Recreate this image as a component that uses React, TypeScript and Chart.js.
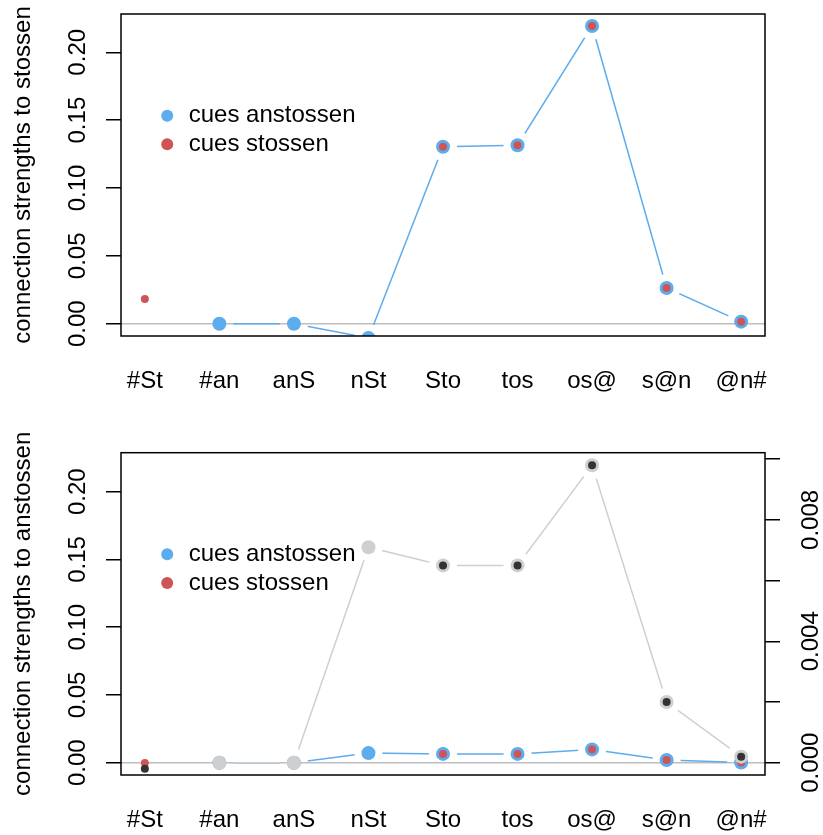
import React, { useEffect, useRef } from "react";
import { Chart, registerables } from "chart.js";

Chart.register(...registerables);

// ---------- data ----------
const CATEGORIES = ["#St", "#an", "anS", "nSt", "Sto", "tos", "os@", "s@n", "@n#"];

// top panel: connection strengths to "stossen"
const TOP_ANSTOSSEN_CUES = [null, 0, 0, -0.0105, 0.1304, 0.1315, 0.2194, 0.0263, 0.0015];
const TOP_STOSSEN_CUES = [0.0182, null, null, null, 0.1304, 0.1315, 0.2194, 0.0263, 0.0015];

// bottom panel: connection strengths to "anstossen"
const BOTTOM_ANSTOSSEN_CUES = [null, 0, 0, 0.0071, 0.0065, 0.0065, 0.0098, 0.002, 0.0002];
const BOTTOM_STOSSEN_CUES = [-0.0002, null, null, null, 0.0065, 0.0065, 0.0098, 0.002, 0.0002];

const LEFT_TICKS = [0, 0.05, 0.1, 0.15, 0.2];
const LEFT_TICK_LABELS = ["0.00", "0.05", "0.10", "0.15", "0.20"];
const RIGHT_TICKS = [0, 0.002, 0.004, 0.006, 0.008, 0.01];
const RIGHT_TICK_LABELS = ["0.000", "", "0.004", "", "0.008", ""];

const LEGEND_LABELS = ["cues anstossen", "cues stossen"];
const TOP_TITLE = "connection strengths to stossen";
const BOTTOM_TITLE = "connection strengths to anstossen";

// axis limits (as in the original plot)
const X_MIN = 0.68;
const X_MAX = 9.32;
const TOP_Y_MIN = -0.00906;
const TOP_Y_MAX = 0.2282;
const BOTTOM_Y_MIN = -0.00908;
const BOTTOM_Y_MAX = 0.2288;
const BOTTOM_Y1_MIN = -0.000405;
const BOTTOM_Y1_MAX = 0.010214;

// ---------- styles ----------
const FONT = "'Liberation Sans', Arial, Helvetica, sans-serif";
const BLUE = "#5CACEE";
const RED = "#CD5555";
const GREY = "#CFCFCF";
const DARK = "#333333";
const ZERO = "#BEBEBE";
const LW = 1.5;

Chart.defaults.font.family = FONT;
Chart.defaults.font.size = 24;
Chart.defaults.color = "#000";

const toXY = (arr: (number | null)[]) => arr.map((v, i) => ({ x: i + 1, y: v }));

// lines with gaps around points (R type = "b")
const gapPlugin = {
  id: "gapLines",
  beforeDatasetDraw(chart: any, args: any) {
    const ds: any = chart.data.datasets[args.index];
    if (!ds.gapRadius) return;
    const ctx = chart.ctx;
    ctx.save();
    ctx.beginPath();
    ctx.rect(0, 0, chart.width, chart.height);
    args.meta.data.forEach((pt: any) => {
      if (pt.skip || !isFinite(pt.x) || !isFinite(pt.y)) return;
      ctx.moveTo(pt.x + ds.gapRadius, pt.y);
      ctx.arc(pt.x, pt.y, ds.gapRadius, 0, Math.PI * 2);
    });
    ctx.clip("evenodd");
  },
  afterDatasetDraw(chart: any, args: any) {
    const ds: any = chart.data.datasets[args.index];
    if (!ds.gapRadius) return;
    chart.ctx.restore();
  },
};

const framePlugin = {
  id: "frame",
  beforeDatasetsDraw(chart: any) {
    const { ctx, chartArea } = chart;
    const y0 = chart.scales.y.getPixelForValue(0);
    ctx.save();
    ctx.strokeStyle = ZERO;
    ctx.lineWidth = LW;
    ctx.beginPath();
    ctx.moveTo(chartArea.left, y0);
    ctx.lineTo(chartArea.right, y0);
    ctx.stroke();
    ctx.restore();
  },
  afterDatasetsDraw(chart: any, _args: any, opts: any) {
    const { ctx, chartArea } = chart;
    ctx.save();
    // box
    ctx.strokeStyle = "#000";
    ctx.lineWidth = LW;
    ctx.strokeRect(chartArea.left, chartArea.top, chartArea.right - chartArea.left, chartArea.bottom - chartArea.top);
    // legend (placed in data coordinates)
    const xs = chart.scales.x;
    const ys = chart.scales.y;
    const lx = xs.getPixelForValue(opts.legendX);
    const ly = ys.getPixelForValue(opts.legendY);
    const colors = [BLUE, RED];
    ctx.font = `24px ${FONT}`;
    ctx.textBaseline = "middle";
    ctx.textAlign = "left";
    LEGEND_LABELS.forEach((label, i) => {
      const y = ly + i * 28.6;
      ctx.fillStyle = colors[i];
      ctx.beginPath();
      ctx.arc(lx, y, 6, 0, Math.PI * 2);
      ctx.fill();
      ctx.fillStyle = "#000";
      ctx.fillText(label, lx + 21.5, y);
    });
    ctx.restore();
  },
};

const gridOpts = {
  display: true,
  drawOnChartArea: false,
  drawTicks: true,
  tickLength: 15,
  tickWidth: LW,
  tickColor: "#000",
  lineWidth: LW,
  color: "#000",
};

const noPad = (s: any) => {
  s.paddingTop = 0;
  s.paddingBottom = 0;
  s.paddingLeft = 0;
  s.paddingRight = 0;
};

const leftAxis = (min: number, max: number, title: string) => ({
  type: "linear",
  position: "left",
  min,
  max,
  afterBuildTicks: (s: any) => {
    s.ticks = LEFT_TICKS.map((v) => ({ value: v }));
  },
  afterFit: (s: any) => {
    s.width = 121;
    noPad(s);
  },
  ticks: {
    autoSkip: false,
    minRotation: 90,
    maxRotation: 90,
    crossAlign: "center",
    padding: 4,
    color: "#000",
    font: { size: 24 },
    callback: (_v: any, i: number) => LEFT_TICK_LABELS[i],
  },
  grid: gridOpts,
  border: { display: false },
  title: {
    display: true,
    text: title,
    color: "#000",
    font: { size: 24 },
    padding: { top: 8.8, bottom: 0 },
  },
});

const xAxis = (height: number) => ({
  type: "linear",
  position: "bottom",
  min: X_MIN,
  max: X_MAX,
  afterBuildTicks: (s: any) => {
    s.ticks = CATEGORIES.map((_c, i) => ({ value: i + 1 }));
  },
  afterFit: (s: any) => {
    s.height = height;
    noPad(s);
  },
  ticks: {
    autoSkip: false,
    minRotation: 0,
    maxRotation: 0,
    padding: 30.6,
    color: "#000",
    font: { size: 24 },
    callback: (_v: any, i: number) => CATEGORIES[i],
  },
  grid: { display: false, drawTicks: false },
  border: { display: false },
});

function useChart(ref: React.RefObject<HTMLCanvasElement>, make: () => any) {
  useEffect(() => {
    if (!ref.current) return;
    const chart = new Chart(ref.current, make());
    return () => chart.destroy();
  }, []);
}

export default function App() {
  const topRef = useRef<HTMLCanvasElement>(null);
  const botRef = useRef<HTMLCanvasElement>(null);

  useChart(topRef, () => ({
    type: "line",
    data: {
      datasets: [
        {
          label: "line anstossen",
          data: toXY(TOP_ANSTOSSEN_CUES),
          borderColor: BLUE,
          borderWidth: LW,
          pointRadius: 0,
          gapRadius: 14,
          clip: 0,
          order: 3,
        },
        {
          label: LEGEND_LABELS[0],
          data: toXY(TOP_ANSTOSSEN_CUES),
          showLine: false,
          pointRadius: 7,
          pointBorderWidth: 0,
          pointBackgroundColor: BLUE,
          clip: 0,
          order: 2,
        },
        {
          label: LEGEND_LABELS[1],
          data: toXY(TOP_STOSSEN_CUES),
          showLine: false,
          pointRadius: 4,
          pointBorderWidth: 0,
          pointBackgroundColor: RED,
          clip: 0,
          order: 1,
        },
      ],
    },
    options: {
      animation: false,
      responsive: false,
      devicePixelRatio: 1,
      layout: { padding: { top: 14, right: 58, left: 0, bottom: 0 } },
      plugins: {
        legend: { display: false },
        tooltip: { enabled: false },
        frame: { legendX: 1.3, legendY: 0.1533 },
      },
      scales: {
        x: xAxis(82),
        y: leftAxis(TOP_Y_MIN, TOP_Y_MAX, TOP_TITLE),
      },
    },
    plugins: [gapPlugin, framePlugin],
  }));

  useChart(botRef, () => ({
    type: "line",
    data: {
      datasets: [
        {
          label: "line anstossen",
          data: toXY(BOTTOM_ANSTOSSEN_CUES),
          borderColor: BLUE,
          borderWidth: LW,
          pointRadius: 0,
          gapRadius: 14,
          yAxisID: "y",
          clip: 0,
          order: 6,
        },
        {
          label: LEGEND_LABELS[0],
          data: toXY(BOTTOM_ANSTOSSEN_CUES),
          showLine: false,
          pointRadius: 7,
          pointBorderWidth: 0,
          pointBackgroundColor: BLUE,
          yAxisID: "y",
          clip: 0,
          order: 5,
        },
        {
          label: LEGEND_LABELS[1],
          data: toXY(BOTTOM_STOSSEN_CUES),
          showLine: false,
          pointRadius: 4,
          pointBorderWidth: 0,
          pointBackgroundColor: RED,
          yAxisID: "y",
          clip: 0,
          order: 4,
        },
        {
          label: "line anstossen (right axis)",
          data: toXY(BOTTOM_ANSTOSSEN_CUES),
          borderColor: GREY,
          borderWidth: LW,
          pointRadius: 0,
          gapRadius: 14,
          yAxisID: "y1",
          clip: 0,
          order: 3,
        },
        {
          label: "cues anstossen (right axis)",
          data: toXY(BOTTOM_ANSTOSSEN_CUES),
          showLine: false,
          pointRadius: 7,
          pointBorderWidth: 0,
          pointBackgroundColor: GREY,
          yAxisID: "y1",
          clip: 0,
          order: 2,
        },
        {
          label: "cues stossen (right axis)",
          data: toXY(BOTTOM_STOSSEN_CUES),
          showLine: false,
          pointRadius: 4,
          pointBorderWidth: 0,
          pointBackgroundColor: DARK,
          yAxisID: "y1",
          clip: 0,
          order: 1,
        },
      ],
    },
    options: {
      animation: false,
      responsive: false,
      devicePixelRatio: 1,
      layout: { padding: { top: 34.7, right: 0, left: 0, bottom: 0 } },
      plugins: {
        legend: { display: false },
        tooltip: { enabled: false },
        frame: { legendX: 1.3, legendY: 0.1538 },
      },
      scales: {
        x: xAxis(60),
        y: leftAxis(BOTTOM_Y_MIN, BOTTOM_Y_MAX, BOTTOM_TITLE),
        y1: {
          type: "linear",
          position: "right",
          min: BOTTOM_Y1_MIN,
          max: BOTTOM_Y1_MAX,
          afterBuildTicks: (s: any) => {
            s.ticks = RIGHT_TICKS.map((v) => ({ value: v }));
          },
          afterFit: (s: any) => {
            s.width = 58;
            noPad(s);
          },
          ticks: {
            autoSkip: false,
            minRotation: 90,
            maxRotation: 90,
            crossAlign: "center",
            padding: 1.1,
            color: "#000",
            font: { size: 24 },
            callback: (_v: any, i: number) => RIGHT_TICK_LABELS[i],
          },
          grid: gridOpts,
          border: { display: false },
        },
      },
    },
    plugins: [gapPlugin, framePlugin],
  }));

  return (
    <div style={{ position: "absolute", left: 0, top: 0, width: 823, height: 835, background: "#fff" }}>
      <canvas ref={topRef} width={823} height={418} style={{ position: "absolute", left: 0, top: 0 }} />
      <canvas ref={botRef} width={823} height={417} style={{ position: "absolute", left: 0, top: 418 }} />
    </div>
  );
}
